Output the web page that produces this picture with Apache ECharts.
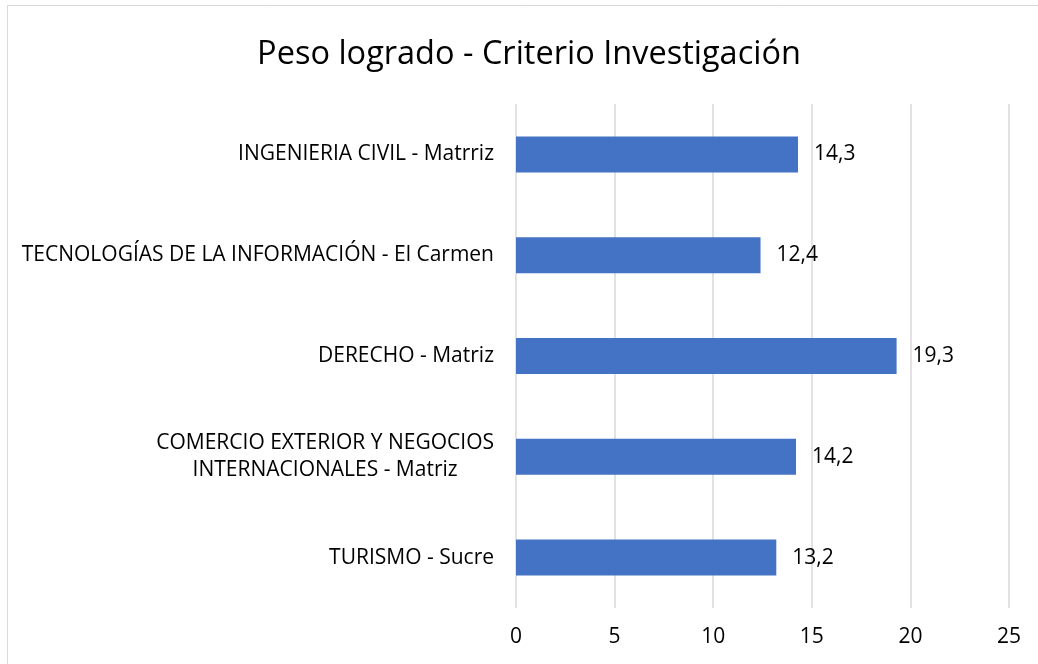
<!DOCTYPE html>
<html>
<head>
<meta charset="utf-8">
<script src="https://cdn.jsdelivr.net/npm/echarts@6/dist/echarts.min.js"></script>
<style>
  html, body { margin: 0; padding: 0; background: #fff; }
  #chart { width: 1038px; height: 664px; }
</style>
</head>
<body>
<div id="chart"></div>
<script>
// data, top to bottom
const categories = [
    'INGENIERIA CIVIL - Matrriz',
    'TECNOLOGÍAS DE LA INFORMACIÓN - El Carmen',
    'DERECHO - Matriz',
    'COMERCIO EXTERIOR Y NEGOCIOS\nINTERNACIONALES - Matriz',
    'TURISMO - Sucre'
];
const values = [14.3, 12.4, 19.3, 14.2, 13.2];
const xTicks = [0, 5, 10, 15, 20, 25];

drawChart();

function drawChart() {
    let myChart = echarts.init(document.getElementById('chart'));
    const font = 'Open Sans';

    let option = {
        backgroundColor: '#fff',
        textStyle: { fontFamily: font },
        title: {
            text: 'Peso logrado - Criterio Investigación',
            left: 524,
            textAlign: 'center',
            top: 33,
            textStyle: { fontFamily: font, fontSize: 32.5, fontWeight: 'normal', color: '#000' }
        },
        graphic: [{
            type: 'rect',
            shape: { x: 7.5, y: 5.5, width: 1100, height: 700 },
            style: { fill: 'none', stroke: '#d9d9d9', lineWidth: 1 },
            silent: true
        }],
        grid: { left: 516, right: 29, top: 104, bottom: 56 },
        xAxis: {
            type: 'value',
            min: xTicks[0],
            max: xTicks[xTicks.length - 1],
            interval: 5,
            axisLine: { show: false },
            axisTick: { show: false },
            splitLine: { lineStyle: { color: '#d9d9d9', width: 1.5 } },
            axisLabel: { color: '#000', fontSize: 21, fontFamily: font, margin: 19 }
        },
        yAxis: {
            type: 'category',
            inverse: true,
            data: categories,
            axisLine: { show: false },
            axisTick: { show: false },
            axisLabel: {
                color: '#000',
                fontSize: 21,
                fontFamily: font,
                margin: 22,
                lineHeight: 27,
                formatter: function (v) {
                    return v.split('\n').map(s => '{c|' + s + '}').join('\n');
                },
                rich: { c: { align: 'center', fontSize: 21, fontFamily: font, color: '#000', lineHeight: 27 } }
            }
        },
        series: [{
            type: 'bar',
            data: values,
            barWidth: 36,
            itemStyle: { color: '#4472C4' },
            label: {
                show: true,
                position: 'right',
                distance: 16,
                color: '#000',
                fontSize: 21,
                fontFamily: font,
                formatter: p => String(p.value).replace('.', ',')
            }
        }]
    };

    myChart.setOption(option);
}
</script>
</body>
</html>
